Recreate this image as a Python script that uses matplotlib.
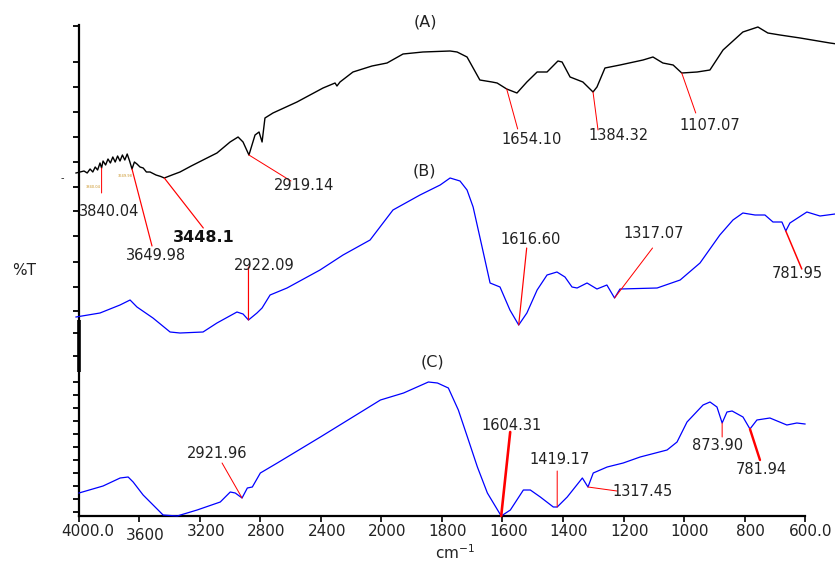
import numpy as np
import matplotlib
matplotlib.use("Agg")
import matplotlib.pyplot as plt
from matplotlib.transforms import ScaledTranslation

# ---------------------------------------------------------------- data
# Spectrum (A): wavenumber (cm-1) and offset transmittance
wn_a = [4000, 3975, 3950, 3930, 3912, 3895, 3880, 3865, 3850, 3840.04, 3831, 3815,
        3800, 3785, 3770, 3755, 3740, 3725, 3710, 3695, 3680, 3665, 3649.98, 3635,
        3619, 3600, 3580, 3560, 3537, 3500, 3470, 3448.1, 3400, 3350, 3280, 3206,
        3119, 3037, 2987, 2956, 2919.14, 2881, 2856, 2837, 2819, 2769, 2619, 2456,
        2381, 2369, 2350, 2269, 2150, 2056, 1978, 1916, 1831, 1809, 1778, 1738, 1700,
        1684, 1654.1, 1622, 1591, 1559, 1528, 1494, 1481, 1456, 1416, 1384.32, 1372,
        1347, 1300, 1228, 1197, 1166, 1134, 1107.07, 1059, 1019, 978, 916, 869,
        838, 800, 737, 644, 600]
t_a = [68.6, 68.8, 69.0, 68.6, 69.4, 68.8, 69.8, 69.2, 70.6, 69.6, 71.0, 70.2,
       71.4, 70.6, 71.8, 70.8, 72.0, 71.0, 72.2, 71.2, 72.4, 71.0, 69.4, 70.8,
       70.4, 69.8, 69.6, 68.8, 68.8, 68.2, 67.9, 67.6, 68.2, 68.8, 70.0, 71.2,
       72.6, 74.8, 75.8, 74.8, 72.2, 76.2, 76.8, 74.8, 79.6, 80.6, 82.8, 85.6,
       86.6, 86.0, 86.8, 88.8, 90.0, 90.6, 92.4, 92.8, 93.0, 92.8, 91.8, 87.2, 86.8,
       86.6, 85.4, 84.6, 86.8, 88.8, 88.8, 91.0, 90.8, 87.8, 86.8, 84.8, 85.8,
       89.6, 90.2, 91.2, 91.8, 90.6, 90.2, 88.6, 88.8, 89.2, 93.2, 96.8, 97.8,
       96.6, 96.2, 95.6, 94.6, 94.2]

# Spectrum (B)
wn_b = [4000, 3850, 3725, 3662, 3619, 3519, 3412, 3350, 3206, 3119, 2994, 2956,
        2922.09, 2869, 2837, 2787, 2681, 2475, 2331, 2162, 2019, 1925, 1862, 1831,
        1800, 1778, 1759, 1731, 1706, 1675, 1644, 1616.6, 1591, 1559, 1528, 1497,
        1472, 1450, 1434, 1403, 1372, 1341, 1317.07, 1300, 1184, 1112, 1050, 988,
        947, 916, 878, 847, 822, 794, 781.95, 769, 716, 675, 628, 600]
t_b = [39.8, 40.6, 42.2, 43.2, 41.8, 39.6, 36.8, 36.6, 36.8, 38.6, 40.8, 40.4,
       39.2, 40.6, 41.6, 44.2, 45.6, 49.2, 52.2, 55.2, 61.2, 64.2, 66.2, 67.6,
       67.0, 65.2, 61.8, 53.8, 46.6, 45.8, 41.2, 38.2, 40.6, 45.2, 48.2, 48.8,
       47.8, 45.8, 45.6, 46.6, 45.4, 46.2, 43.6, 45.4, 45.6, 47.2, 50.6, 56.2,
       59.2, 60.6, 60.2, 60.2, 58.8, 58.8, 57.0, 58.6, 60.8, 60.0, 60.4, 60.4]

# Spectrum (C)
wn_c = [4000, 3841, 3728, 3675, 3642, 3576, 3444, 3351, 3219, 3066, 3000, 2967,
        2921.96, 2887, 2854, 2801, 2689, 2404, 2007, 1927, 1845, 1815, 1779, 1746,
        1716, 1683, 1650, 1604.31, 1574, 1531, 1508, 1475, 1432, 1419.17, 1386,
        1336, 1317.45, 1300, 1254, 1201, 1145, 1056, 1023, 990, 937, 914, 891,
        873.9, 858, 841, 805, 781.94, 759, 716, 660, 627, 600]
t_c = [4.6, 6.0, 7.6, 7.8, 6.8, 4.2, 0.2, 0.0, 1.2, 2.8, 4.8, 4.6,
       3.6, 5.6, 5.8, 8.6, 10.6, 15.8, 23.2, 24.6, 26.8, 26.6, 25.6, 21.2,
       15.8, 9.8, 4.6, 0.0, 1.2, 5.2, 5.2, 3.8, 1.8, 1.8, 3.8,
       7.6, 5.8, 8.6, 9.8, 10.6, 11.8, 13.2, 14.8, 18.8, 22.2, 22.8, 21.8,
       18.6, 20.8, 21.0, 19.8, 17.4, 19.2, 19.6, 18.2, 18.6, 18.4]

x_ticks = [4000, 3600, 3200, 2800, 2400, 2000, 1800, 1600, 1400, 1200, 1000, 800, 600]
x_tick_labels = ["4000.0", "3600", "3200", "2800", "2400", "2000", "1800", "1600",
                 "1400", "1200", "1000", "800", "600.0"]

# peak labels: (wavenumber, label, line-end offset px, text offset px, line width)
peaks_a = [(3840.04, "3840.04", (0, -25), (8, -43), 1.0),
           (3649.98, "3649.98", (20, -77), (24, -87), 1.2),
           (3448.1, "3448.1", (39, -50), (39, -59), 1.2),
           (2919.14, "2919.14", (42, -26), (55, -31), 1.0),
           (1654.10, "1654.10", (11, -40), (25, -51), 1.0),
           (1384.32, "1384.32", (5, -38), (25, -44), 1.0),
           (1107.07, "1107.07", (14, -40), (28, -52), 1.0)]
peaks_b = [(2922.09, "2922.09", (0, 53), (16, 54), 1.2),
           (1616.60, "1616.60", (8, 77), (12, 85), 1.2),
           (1317.07, "1317.07", (38, 50), (39, 65), 1.0),
           (781.95, "781.95", (16, -38), (12, -42), 1.5)]
peaks_c = [(2921.96, "2921.96", (-20, 35), (-25, 45), 1.0),
           (1604.31, "1604.31", (9, 84), (10, 91), 2.6),
           (1419.17, "1419.17", (0, 36), (2, 48), 1.0),
           (1317.45, "1317.45", (29, -4), (55, -5), 1.0),
           (873.90, "873.90", (0, -14), (-5, -22), 1.0),
           (781.94, "781.94", (10, -31), (11, -40), 2.4)]

TEXT = "#222222"


# ---------------------------------------------------------------- axis scale
# the region above 2000 cm-1 is compressed by a factor of two
def fwd(x):
    x = np.asarray(x, dtype=float)
    return np.where(x > 2000, 2000 + (x - 2000) / 2.0, x)


def inv(y):
    y = np.asarray(y, dtype=float)
    return np.where(y > 2000, 2000 + (y - 2000) * 2.0, y)


W, H = 835, 562
fig = plt.figure(figsize=(W / 100, H / 100), dpi=100)
ax_c = fig.add_axes([79 / W, 46 / H, 726 / W, 491 / H])
ax_ab = fig.add_axes([76 / W, 46 / H, 768 / W, 491 / H])

for ax in (ax_c, ax_ab):
    ax.set_xscale("function", functions=(fwd, inv))
    ax.set_xlim(4000, 600)
    ax.set_ylim(0, 98.2)

ax_ab.set_axis_off()
ax_ab.patch.set_visible(False)

# curves
ax_ab.plot(wn_a, t_a, color="black", lw=1.0, clip_on=False)
ax_ab.plot(wn_b, t_b, color="#0000ff", lw=0.9, clip_on=False)
ax_c.plot(wn_c, t_c, color="#0000ff", lw=0.9, clip_on=False, zorder=3)


def mark(ax, wn, tr, peaks, bold_label=None):
    xs, ys = np.asarray(wn)[::-1], np.asarray(tr)[::-1]
    for w, lab, lend, toff, lw in peaks:
        y = float(np.interp(w, xs, ys))
        ax.annotate("", xy=(w, y), xytext=lend, textcoords="offset pixels",
                    arrowprops=dict(arrowstyle="-", color="red", lw=lw * 0.72,
                                    shrinkA=0, shrinkB=0), annotation_clip=False)
        kw = dict(fontsize=10.5, color=TEXT)
        if lab == bold_label:
            kw = dict(fontsize=11.5, color="#111111", fontweight="bold")
        ax.annotate(lab, xy=(w, y), xytext=toff, textcoords="offset pixels",
                    ha="center", va="center", annotation_clip=False, **kw)


mark(ax_ab, wn_a, t_a, peaks_a, bold_label="3448.1")
mark(ax_ab, wn_b, t_b, peaks_b)
mark(ax_c, wn_c, t_c, peaks_c)

# tiny instrument peak tags near the noisy O-H region of (A)
for w, lab, off in [(3840.04, "3840.04", (-8, -19)), (3649.98, "3649.98", (-7, -7))]:
    y = float(np.interp(w, np.asarray(wn_a)[::-1], np.asarray(t_a)[::-1]))
    ax_ab.annotate(lab, xy=(w, y), xytext=off, textcoords="offset pixels",
                   ha="center", va="center", fontsize=2.6, color="#c8901e",
                   annotation_clip=False)

# panel letters
fig.text(425 / W, 1 - 22 / H, "(A)", fontsize=11.5, color=TEXT, ha="center", va="center")
fig.text(424 / W, 1 - 171 / H, "(B)", fontsize=11.5, color=TEXT, ha="center", va="center")
fig.text(432 / W, 1 - 362 / H, "(C)", fontsize=11.5, color=TEXT, ha="center", va="center")

# axis titles
fig.text(24 / W, 1 - 271 / H, "%T", fontsize=11, color=TEXT, ha="center", va="center")
fig.text(455 / W, 1 - 543 / H, "cm$^{-1}$", fontsize=11, color=TEXT, ha="center", va="top")

# ---------------------------------------------------------------- frame
for side in ("top", "right"):
    ax_c.spines[side].set_visible(False)
ax_c.spines["left"].set_linewidth(1.6)
ax_c.spines["bottom"].set_linewidth(1.6)

ax_c.set_xticks(x_ticks)
ax_c.set_xticklabels(x_tick_labels, fontsize=11, color=TEXT)
ax_c.tick_params(axis="x", direction="out", length=4, width=1.2, pad=2)
ax_c.minorticks_off()

y_ticks = [98.0, 90.8, 85.8, 80.8, 75.8, 70.8, 65.8, 61.0, 56.0, 50.8, 45.8, 41.0,
           36.6, 32.0, 26.8, 24.2, 21.6, 19.0, 16.4, 13.8, 11.2, 8.6, 6.0, 3.4, 0.8]
ax_c.set_yticks(y_ticks)
ax_c.set_yticklabels([])
ax_c.tick_params(axis="y", direction="out", length=4, width=1.3)

# tick labels sit slightly to the right of their ticks
for i, lab in enumerate(ax_c.get_xticklabels()):
    dy = -4 if x_tick_labels[i] == "3600" else 0
    dx = 9 if x_tick_labels[i] in ("4000.0",) else 6
    lab.set_transform(lab.get_transform() + ScaledTranslation(dx / 100, dy / 100, fig.dpi_scale_trans))

# heavy segment on the ordinate and the small dash beside it
ax_c.plot([4000, 4000], [28.8, 39.2], color="black", lw=2.6, clip_on=False, solid_capstyle="butt")
fig.text(62 / W, 1 - 178 / H, "-", fontsize=7, color=TEXT, ha="center", va="center")

fig.savefig("out.png", dpi=100, facecolor="white")
